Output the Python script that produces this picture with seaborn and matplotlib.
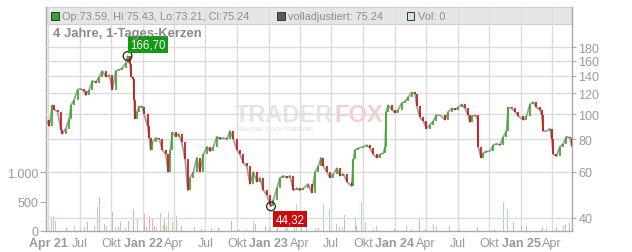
import numpy as np
import pandas as pd
import matplotlib
matplotlib.use("Agg")
import matplotlib.pyplot as plt
import seaborn as sns
from matplotlib.patches import Rectangle

# ---------------- data ----------------
start_date = "2021-03-26"
price_days = [0, 9, 18, 23, 33, 43, 47, 57, 67, 72, 81, 91, 100, 110, 115, 125, 134, 144, 154, 163,
              173, 183, 192, 202, 212, 221, 231, 236, 243, 247, 253, 255, 257, 263, 270, 279, 284, 294, 299, 303,
              308, 318, 328, 337, 347, 354, 360, 366, 376, 384, 393, 403, 411, 417, 427, 437, 446, 456, 466, 475,
              485, 495, 504, 514, 524, 533, 543, 553, 562, 572, 582, 591, 601, 611, 620, 630, 640, 649, 652, 659,
              669, 678, 688, 698, 707, 717, 727, 736, 746, 760, 770, 780, 789, 797, 804, 814, 823, 833, 843, 852,
              862, 872, 886, 891, 896, 905, 920, 930, 939, 949, 959, 968, 978, 983, 986, 992, 1002, 1012, 1021, 1031,
              1041, 1050, 1060, 1070, 1075, 1084, 1094, 1103, 1113, 1123, 1132, 1142, 1157, 1166, 1176, 1186, 1195, 1205, 1215, 1224,
              1229, 1234, 1244, 1251, 1253, 1261, 1268, 1277, 1287, 1297, 1306, 1316, 1326, 1335, 1340, 1350, 1360, 1369, 1384, 1393,
              1403, 1413, 1422, 1432, 1437, 1442, 1451, 1461, 1466, 1471, 1480, 1490, 1500, 1509, 1519, 1524]
price_close = [95, 90, 108, 104, 102, 87, 84, 88, 96, 108, 113, 124, 125, 122, 118, 124, 134, 132, 139, 146,
               139, 141, 124, 146, 148, 150, 157, 166.7, 155, 139, 136, 113, 96, 102, 107, 106, 100, 90, 81, 73,
               78, 81, 80, 73, 70, 60, 73, 85, 82, 84, 78, 67, 51, 57, 60, 68, 60, 70, 75, 72,
               75, 82, 80, 81, 80, 86, 80, 73, 70, 65, 63, 54, 60, 55, 57, 51, 49, 45, 44.32, 47,
               52, 57, 58, 57, 58, 51, 52, 51, 52, 54, 50, 60, 63, 68, 63, 60, 57, 59, 62, 58,
               59, 55, 53, 67, 73, 74, 75, 76, 74, 70, 68, 70, 71, 75, 102, 108, 104, 101, 104, 110,
               112, 116, 121, 119, 107, 97, 94, 88, 91, 94, 99, 99, 95, 102, 105, 104, 106, 109, 105, 99,
               93, 98, 99, 96, 75, 68, 71, 72, 72, 76, 77, 76, 82, 86, 106, 105, 102, 98, 95, 98,
               109, 111, 106, 104, 99, 86, 86, 88, 80, 70, 69, 75, 77, 82, 81, 75.24]

vol_up_days = [15, 20, 26, 40, 72, 81, 100, 130, 149, 175, 200, 216, 230, 265, 290, 320, 332, 340, 355, 366,
               417, 430, 480, 560, 601, 650, 693, 700, 727, 740, 756, 780, 804, 823, 843, 860, 896, 915, 925, 950,
               959, 1000, 1045, 1060, 1123, 1133, 1200, 1300, 1326, 1338, 1450, 1480, 1500, 1506]
vol_up = [230, 260, 175, 60, 120, 90, 50, 70, 400, 80, 60, 175, 50, 200, 90, 70, 300, 110, 330, 175,
          260, 60, 50, 40, 175, 60, 120, 80, 460, 70, 175, 50, 460, 375, 120, 60, 200, 490, 145, 40,
          90, 40, 90, 30, 120, 90, 30, 40, 490, 375, 50, 60, 100, 120]
vol_down_days = [60, 110, 120, 140, 154, 168, 185, 192, 210, 240, 253, 275, 284, 299, 308, 315, 344, 350, 378, 393,
                 450, 500, 538, 580, 606, 620, 635, 670, 720, 790, 850, 865, 884, 900, 1010, 1084, 1100, 1171, 1250, 1355,
                 1379, 1393, 1440, 1470, 1519]
vol_down = [50, 60, 145, 80, 570, 120, 70, 330, 60, 175, 375, 110, 290, 260, 200, 90, 200, 80, 260, 90,
            40, 50, 175, 40, 120, 60, 90, 50, 70, 50, 60, 270, 770, 80, 30, 200, 40, 90, 60, 145,
            90, 90, 50, 40, 130]

price_ticks = [40, 60, 80, 100, 120, 140, 160, 180]
volume_ticks = [0, 500, 1000]
volume_tick_labels = ["0", "500", "1.000"]
month_names = {1: "Jan", 4: "Apr", 7: "Jul", 10: "Okt"}
title_text = "4 Jahre, 1-Tages-Kerzen"
legend_ohlc = "Op:73.59, Hi:75.43, Lo:73.21, Cl:75.24"
legend_adj = "volladjustiert: 75.24"
legend_vol = "Vol: 0"

# ---------------- style ----------------
sns.set_style("white")
plt.rcParams["font.family"] = ["Liberation Sans", "DejaVu Sans"]

W, H = 632, 253
fig = plt.figure(figsize=(W / 100, H / 100), dpi=100)
ax = fig.add_axes([46 / W, 21 / H, 526 / W, 224 / H])
ax2 = ax.twinx()

t0 = pd.Timestamp(start_date)
dates = t0 + pd.to_timedelta(price_days, unit="D")
up_dates = t0 + pd.to_timedelta(vol_up_days, unit="D")
down_dates = t0 + pd.to_timedelta(vol_down_days, unit="D")

GRID = "#dcdcdc"
AXC = "#aaaaaa"
TXT = "#9a9a9a"

# volume (left axis)
ax.bar(up_dates, vol_up, width=2.6, color="#a9dfa9", linewidth=0, zorder=2)
ax.bar(down_dates, vol_down, width=2.6, color="#f3a9b1", linewidth=0, zorder=2)
ax.set_ylim(0, 3797)
ax.set_yticks(volume_ticks)
ax.set_yticklabels(volume_tick_labels)

# price (right axis, log)
df = pd.DataFrame({"date": dates, "close": price_close})
ax2.set_yscale("log")
sns.lineplot(data=df, x="date", y="close", ax=ax2, color="#9e9e9e", linewidth=1.25, zorder=3)
opens = df["close"].shift(1)
body = df.iloc[1:]
op = opens.iloc[1:]
cols = np.where(body["close"].values >= op.values, "#3aaa2a", "#c81414")
ax2.vlines(body["date"], op.values, body["close"].values, colors=cols, linewidth=1.25, zorder=4)

ax2.set_ylim(35.67, 256.8)
ax2.set_yticks(price_ticks)
ax2.set_yticklabels([str(v) for v in price_ticks])
ax2.yaxis.set_minor_locator(matplotlib.ticker.NullLocator())
ax2.set_ylabel("")
ax2.set_xlabel("")

# x axis
ax.set_xlim(t0 - pd.Timedelta(days=0.5), t0 + pd.Timedelta(days=1525))
qs = pd.date_range("2021-04-01", "2025-04-01", freq="QS")
labels = []
for i, d in enumerate(qs):
    if d.month == 1 or i == 0:
        labels.append(f"{month_names[d.month]} {d.year % 100:02d}")
    else:
        labels.append(month_names[d.month])
ax.set_xticks(qs)
ax.set_xticklabels(labels)
for i, (lab, d) in enumerate(zip(ax.get_xticklabels(), qs)):
    if d.month == 1 or i == 0:
        lab.set_fontweight("bold")
        lab.set_color("#8a8a8a")

# grids
ax.set_axisbelow(True)
ax.grid(axis="x", color=GRID, linewidth=1.0)
ax.grid(axis="y", visible=False)
ax2.set_axisbelow(True)
ax2.grid(axis="y", color=GRID, linewidth=1.0)
ax2.grid(axis="x", visible=False)

# spines / ticks
for s in ["top", "right"]:
    ax.spines[s].set_visible(False)
for s in ["top", "left", "bottom"]:
    ax2.spines[s].set_visible(False)
for s in ["left", "bottom"]:
    ax.spines[s].set_color(AXC)
    ax.spines[s].set_linewidth(1.0)
ax2.spines["right"].set_color(AXC)
ax2.spines["right"].set_linewidth(1.0)

ax.tick_params(axis="x", length=3, color=AXC, labelsize=9, labelcolor=TXT, pad=1.5)
ax.tick_params(axis="y", length=4, color=AXC, labelsize=9, labelcolor=TXT, pad=1.5)
ax2.tick_params(axis="y", length=3, color=AXC, labelsize=9, labelcolor=TXT, pad=1.5)

# legend bar
ax.add_patch(Rectangle((0, (232 - 24.5) / 224), 1, 16.5 / 224, transform=ax.transAxes,
                       facecolor="#e6e6e6", edgecolor="#cfcfcf", linewidth=0.8, zorder=0.3, clip_on=False))

def fx(x):
    return x / W

def fy(y):
    return 1 - y / H

sq = 7.5
for x0, fc in [(51, "#33a532"), (277, "#5a5a5a"), (407, "#c9eec9")]:
    fig.patches.append(Rectangle((fx(x0), fy(20.5)), sq / W, sq / H, transform=fig.transFigure,
                                 facecolor=fc, edgecolor="#333333", linewidth=0.7, zorder=5))
fig.text(fx(62), fy(16.5), legend_ohlc, fontsize=7.9, color="#8c8c8c", va="center", ha="left")
fig.text(fx(288), fy(16.5), legend_adj, fontsize=7.9, color="#8c8c8c", va="center", ha="left")
fig.text(fx(418), fy(16.5), legend_vol, fontsize=7.9, color="#8c8c8c", va="center", ha="left")

# title
fig.text(fx(53), fy(34), title_text, fontsize=9.4, fontweight="bold", color="#8a8a8a", va="center", ha="left")

# watermark (behind the price line)
ax.text(fx(235), fy(116), "TRADER", transform=fig.transFigure, fontsize=17, fontweight="bold",
        color="#e5e5e5", va="center", ha="left", zorder=1)
ax.text(fx(334), fy(116), "FOX", transform=fig.transFigure, fontsize=17, fontweight="bold",
        color="#f6cccc", va="center", ha="left", zorder=1)
ax.text(fx(238), fy(129.5), "REALTIME STOCK SCREENING", transform=fig.transFigure, fontsize=3.6,
        fontweight="bold", color="#e3e3e3", va="center", ha="left", zorder=1)

# max / min markers
imax = int(np.argmax(price_close))
imin = int(np.argmin(price_close))
for idx in (imax, imin):
    ax2.scatter([dates[idx]], [price_close[idx]], s=40, facecolors="none", edgecolors="#222222",
                linewidths=0.9, zorder=6)
fmt = lambda v: f"{v:.2f}".replace(".", ",")
ax2.annotate(fmt(price_close[imax]), xy=(dates[imax], price_close[imax]), xytext=(3, 5.5),
             textcoords="offset pixels", ha="left", va="bottom", color="white", fontsize=8.3,
             bbox=dict(boxstyle="square,pad=0.18", fc="#129a12", ec="none"), zorder=7)
ax2.annotate(fmt(price_close[imin]), xy=(dates[imin], price_close[imin]), xytext=(4.5, -7),
             textcoords="offset pixels", ha="left", va="top", color="white", fontsize=8.3,
             bbox=dict(boxstyle="square,pad=0.18", fc="#cc0a0a", ec="none"), zorder=7)

fig.savefig("out.png", dpi=100)
